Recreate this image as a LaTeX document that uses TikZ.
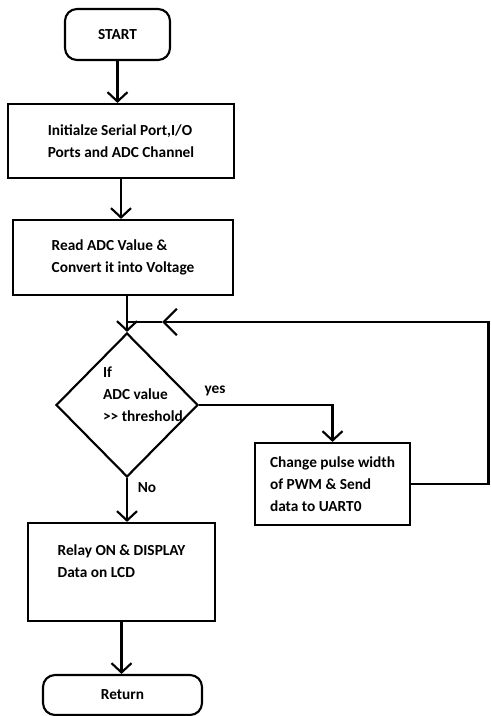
\documentclass[tikz,border=0pt]{standalone}
\usepackage{fontspec}
\setmainfont{Carlito}
\usetikzlibrary{shapes.geometric,arrows.meta}
\begin{document}
\begin{tikzpicture}[x=0.75pt,y=-0.75pt,line width=1.6pt,
        >={Straight Barb[length=7pt,width=15pt]},
        every node/.style={font=\bfseries\fontsize{11.5}{16.5}\selectfont},
        term/.style={draw,rounded corners=9pt,inner sep=0pt},
        proc/.style={draw,align=left,inner sep=0pt},
        decision/.style={draw,diamond,inner sep=0pt,minimum width=106.5pt,minimum height=108pt}]
        \useasboundingbox (0,0) rectangle (490,716);
        \node[term,minimum width=78.75pt,minimum height=38.25pt] (start) at (117.5,34.5) {START};
        \node[proc,minimum width=169.5pt,minimum height=55.5pt] (init) at (121,141) {Initialze Serial Port,I/O\\Ports and ADC Channel};
        \node[proc,minimum width=165pt,minimum height=56.25pt] (read) at (123,257.5) {Read ADC Value \&\\Convert it into Voltage};
        \node[decision] (dec) at (127,405) {};
        \node[align=left] (dectext) at (143,394) {If\\ADC value\\>{}> threshold};
        \node[proc,minimum width=116.25pt,minimum height=61.5pt] (change) at (332.5,484) {Change pulse width\\of PWM \& Send\\data to UART0};
        \node[proc,minimum width=140.25pt,minimum height=73.5pt] (relay) at (121.5,572) {Relay ON \& DISPLAY\\Data on LCD\\ };
        \node[term,minimum width=119.25pt,minimum height=30pt] (ret) at (122.5,695) {Return};
        \node (yes) at (215,391) {yes};
        \node (no) at (147,488) {No};
        \coordinate (loopTR) at (488.5,322);
        \coordinate (loopTip) at (162,322);
        \coordinate (merge) at (127,322);
        \draw[->] (start.south) -- (start.south |- init.north);
        \draw[->] (init.south) -- (init.south |- read.north);
        \draw[->] (dec.north |- read.south) -- (dec.north);
        \draw[->] (dec.east) -| (change.north);
        \draw[->] (dec.south) -- (dec.south |- relay.north);
        \draw[->] (relay.south) -- (relay.south |- ret.north);
        \draw[-{Straight Barb[length=10pt,width=20pt]}] (change.east) -| (loopTR) -- (loopTip);
        \draw (loopTip) -- (merge);
    \end{tikzpicture}
\end{document}
